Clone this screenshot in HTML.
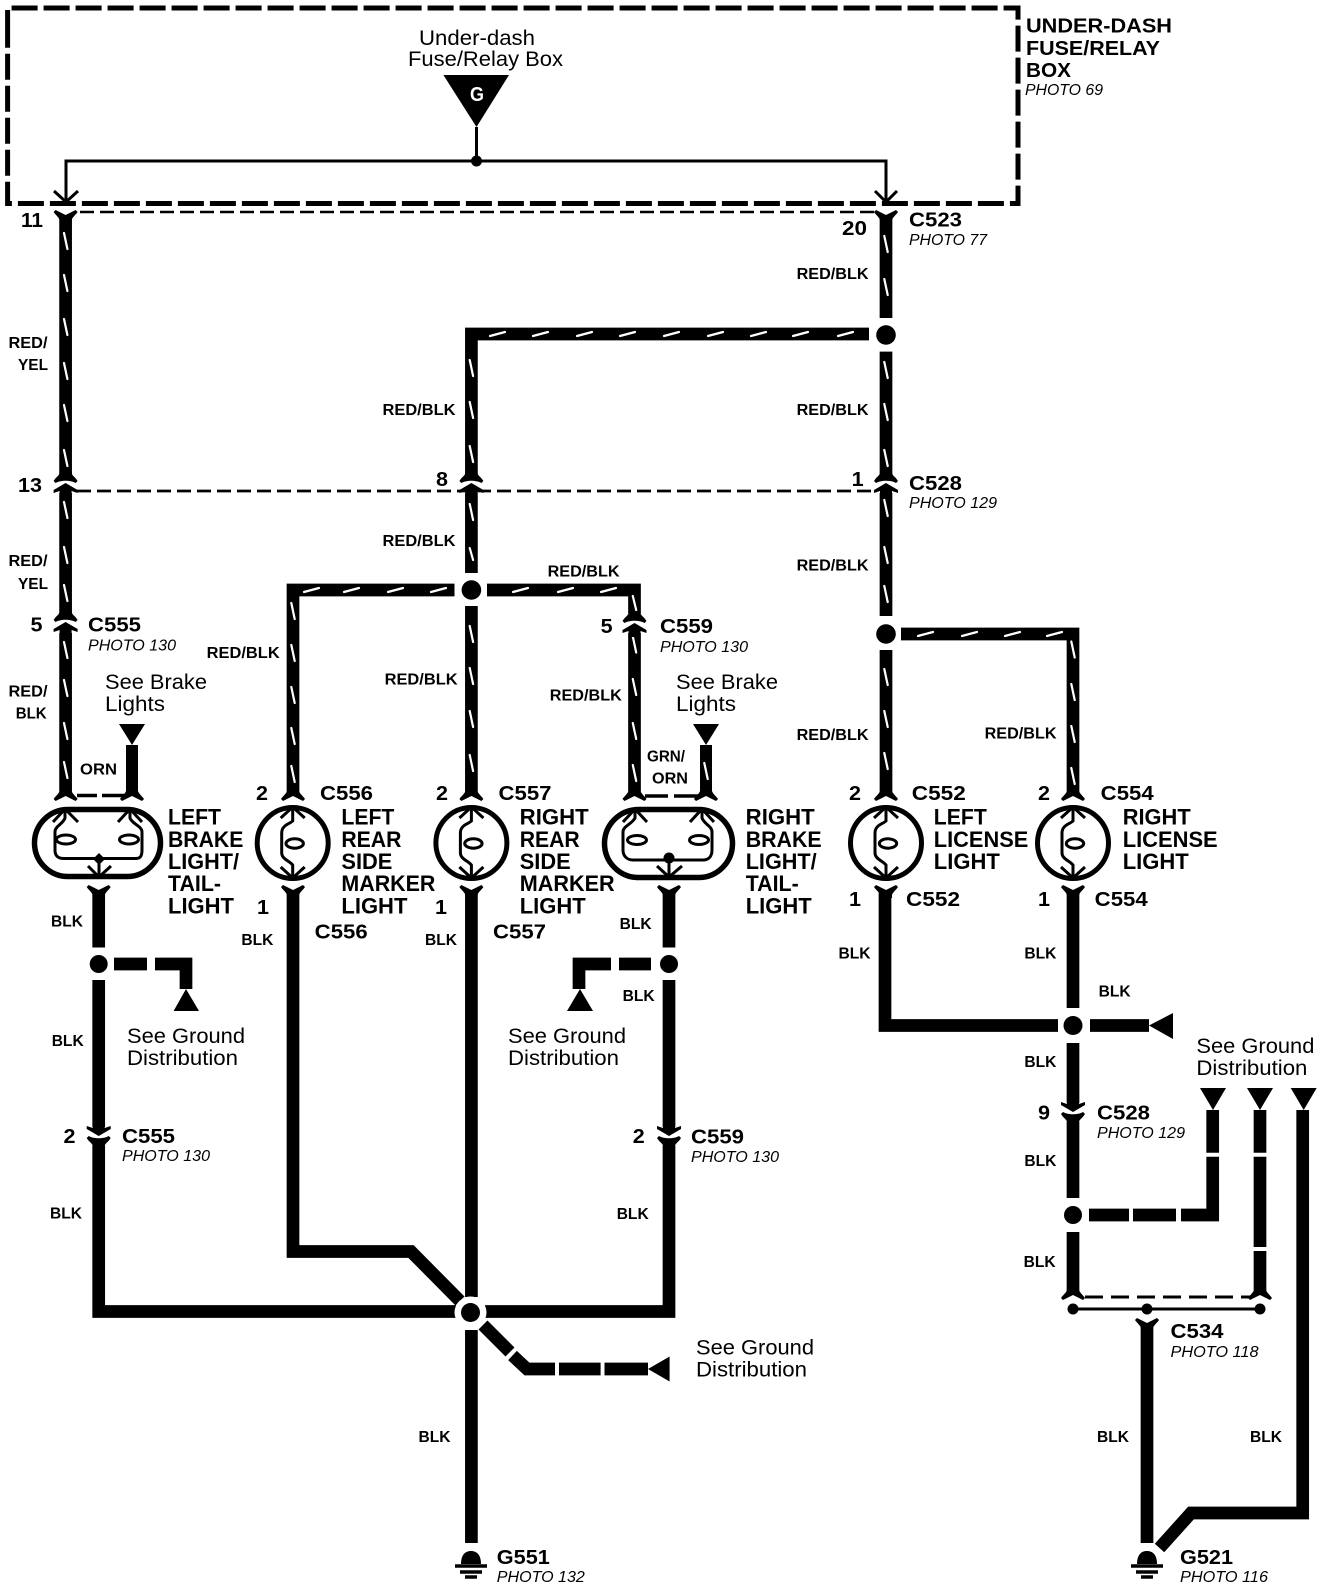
<!DOCTYPE html>
<html><head><meta charset="utf-8"><style>
html,body{margin:0;padding:0;background:#fff}
svg{display:block}
text{font-family:"Liberation Sans",sans-serif;fill:#000}
.w{font-size:16px;font-weight:bold}
.c{font-size:20px;font-weight:bold}
.p{font-size:16px;font-style:italic}
.b{font-size:22px;font-weight:bold}
.r{font-size:21px}
.t{fill:none;stroke:#000;stroke-width:12.7;stroke-linejoin:miter}
.t2{fill:none;stroke:#000;stroke-width:3}
.s{fill:none;stroke:#fff;stroke-width:2.2;stroke-linecap:round}
</style></head><body>
<svg xmlns="http://www.w3.org/2000/svg" width="1328" height="1588" viewBox="0 0 1328 1588">
<defs>
<g id="cu"><path d="M-12-2C-9-7-6-7-6-11H6C6-7 9-7 12-2L10 0C5-3-5-3-10 0Z"/><path d="M0 0L12 7L12 10L6 8V14H-6V8L-12 10L-12 7Z"/></g>
<g id="cd"><path d="M-12 2C-9 7-6 7-6 11H6C6 7 9 7 12 2L10 0C5 3-5 3-10 0Z"/><path d="M0 0L12-7L12-10L6-8V-14H-6V-8L-12-10L-12-7Z"/></g>
<path id="fu" d="M-6-3H6V0C7 3 10 5 12 8L10 10L0 5L-10 10L-12 8C-10 5-7 3-6 0Z"/>
<path id="fd" d="M-6 3H6V0C7-3 10-5 12-8L10-10L0-5L-10-10L-12-8C-10-5-7-3-6 0Z"/>
<g id="bulb" fill="none" stroke="#000">
<ellipse rx="35.5" ry="35.5" stroke-width="5"/>
<path d="M-12-25L0-36L12-25M-12 24L0 35L12 24" stroke-width="3"/>
<path d="M0-35V-22C-3-19-11-18-11-10V-3C-11 1-11 3-11 6V10C-11 16-3 18 0 22V35" stroke-width="3"/>
<ellipse cx="2" cy="0.5" rx="8.7" ry="4.7" stroke-width="3"/>
</g>
<g id="gnd"><path d="M-10 13C-10 3-5 0 0 0S10 3 10 13Z"/><path d="M-16 15H16M-11 21H11M-6 26H6" stroke="#000" stroke-width="3.4"/></g>
</defs>

<!-- box -->
<path d="M7.6 36V8H1018V203.5H7.6V36" fill="none" stroke="#000" stroke-width="5" stroke-dasharray="26 6"/>
<path d="M80 212H875" fill="none" stroke="#000" stroke-width="2.6" stroke-dasharray="14 6"/>
<path d="M77 491H875" fill="none" stroke="#000" stroke-width="2.8" stroke-dasharray="14 6"/>
<path d="M66 200V161H886V200M476.5 127V161" class="t2"/>
<circle cx="476.5" cy="161" r="5.5"/>
<path d="M54 191L66 202L78 191M875 191L886 202L897 191" class="t2"/>
<path d="M443.4 75H509L476.5 127Z"/>

<!-- red wires -->
<path class="t" d="M65.6 216V474M65.6 493V613M65.6 633V792"/>
<path class="t" d="M886 218V318M886 351.6V474M886 493V616M886 650V792"/>
<path class="t" d="M869 334H471.4V474M471.4 493V573M471.4 606V792"/>
<path class="t" d="M454.5 590H293V792"/>
<path class="t" d="M487 590H634.5V613M634.5 633V792"/>
<path class="t" d="M901 634H1073V792"/>
<path class="s" d="M64 233l3.4 16M64 275l3.4 16M64 319l3.4 16M64 363l3.4 16M64 405l3.4 16M64 450l3.4 16M64 502l3.4 16M64 547l3.4 16M64 585l3.4 16M64 642l3.4 16M64 680l3.4 16M64 723l3.4 16M64 762l3.4 16"/>
<path class="s" d="M884.300 236l3.4 16M884.300 279l3.4 16M884.300 362l3.4 16M884.300 404l3.4 16M884.300 450l3.4 16M884.300 500l3.4 16M884.300 547l3.4 16M884.300 586l3.4 16M884.300 669l3.4 16M884.300 711l3.4 16M884.300 753l3.4 16"/>
<path class="s" d="M469.700 360l3.4 16M469.700 402l3.4 16M469.700 446l3.4 16M469.700 504l3.4 16M469.700 548l3.4 12M469.700 626l3.4 16M469.700 668l3.4 16M469.700 711l3.4 16M469.700 755l3.4 16"/>
<path class="s" d="M291.300 603l3.4 16M291.300 645l3.4 16M291.300 687l3.4 16M291.300 728l3.4 16M291.300 766l3.4 16"/>
<path class="s" d="M632.800 596l3.4 14M632.800 636.500l3.4 16M632.800 679l3.4 16M632.800 723l3.4 16M632.800 765l3.4 16"/>
<path class="s" d="M1071.300 641.500l3.4 16M1071.300 684l3.4 16M1071.300 726l3.4 16M1071.300 768l3.4 16"/>
<path class="s" d="M490 336l15-4M533 336l15-4M577 336l15-4M620 336l15-4M664 336l15-4M708 336l15-4M751 336l15-4M793 336l15-4M838 336l15-4"/>
<path class="s" d="M304 592l15-4M344 592l15-4M388 592l15-4M431 592l15-4M513 592l15-4M558 592l15-4M601 592l15-4"/>
<path class="s" d="M918 636l15-4M962 636l15-4M1005 636l15-4M1047 636l15-4"/>

<!-- junctions -->
<circle cx="886" cy="335" r="9.8"/><circle cx="471.400" cy="590" r="9.8"/><circle cx="886" cy="634" r="9.8"/>
<circle cx="98.700" cy="964" r="9"/><circle cx="669" cy="964" r="9"/>
<circle cx="1073" cy="1025.500" r="9.500"/><circle cx="1073" cy="1215" r="9"/>

<!-- connectors -->
<use href="#fd" x="65.600" y="220"/><use href="#fd" x="886" y="220"/>
<use href="#cu" x="65.600" y="483"/><use href="#cu" x="471.400" y="483"/><use href="#cu" x="886" y="483"/>
<use href="#cu" x="65.600" y="622"/><use href="#cu" x="634.500" y="623"/>
<use href="#fu" x="65.600" y="791"/><use href="#fu" x="132" y="791"/><use href="#fu" x="293" y="791"/><use href="#fu" x="471.400" y="791"/><use href="#fu" x="634.500" y="791"/><use href="#fu" x="706" y="791"/><use href="#fu" x="886" y="791"/><use href="#fu" x="1073" y="791"/>
<use href="#fd" x="98.700" y="895"/><use href="#fd" x="293" y="895"/><use href="#fd" x="471.400" y="895"/><use href="#fd" x="669" y="895"/><use href="#fd" x="886" y="895"/><use href="#fd" x="1073" y="895"/>
<use href="#cd" x="98.700" y="1136"/><use href="#cd" x="669" y="1136"/><use href="#cd" x="1073" y="1112"/>
<use href="#fu" x="1073" y="1290"/><use href="#fu" x="1260" y="1290"/><use href="#fd" x="1147" y="1328"/>
<path d="M77 795.500H97M102 795.500H127M645 796H668M674 796H700" fill="none" stroke="#000" stroke-width="3.5"/>

<!-- bulbs -->
<use href="#bulb" x="292.700" y="843"/><use href="#bulb" x="471.400" y="843"/><use href="#bulb" x="886" y="843"/><use href="#bulb" x="1073" y="843"/>
<g fill="none" stroke="#000">
<rect x="34.500" y="809.500" width="126" height="67" rx="33.500" stroke-width="5.500"/>
<rect x="604.500" y="809.500" width="128" height="68" rx="34" stroke-width="5.500"/>
<path stroke-width="3" d="M53 822L65 809L78 822M118 822L130 809L142 822M88 866L99 877L111 866M99 860V877M65 809V818C63 824 55 826 55 832V850C55 856 58 858.500 64 858.500H136C141 858.500 142 855 142 850V832C142 826 132 824 130 818V809"/>
<ellipse cx="66" cy="839.500" rx="9.500" ry="4.500" stroke-width="3"/><ellipse cx="129" cy="839.500" rx="9.500" ry="4.500" stroke-width="3"/>
<path stroke-width="3" d="M623 822L635 809L647 822M690 822L702 809L714 822M657 866L669 877L682 866M669 860V877M635 809V818C632 824 623 826 623 832V850C623 856 627 860 633 860H703C709 860 712 856 712 850V832C712 826 704 824 702 818V809"/>
<ellipse cx="637" cy="840" rx="9.500" ry="4.500" stroke-width="3"/><ellipse cx="699" cy="840" rx="9.500" ry="4.500" stroke-width="3"/>
</g>
<path d="M99 853L105 859L99 865L93 859Z"/><circle cx="669" cy="858" r="5.500"/>

<!-- see brake -->
<path class="t" style="stroke-width:12" d="M132 745V790M706 745V790"/>
<path class="s" d="M704.300 763l3.4 16"/>
<path d="M119 724H145L132 745ZM693 724H719L706 745Z"/>

<!-- black wires -->
<path class="t" d="M98.700 893V947.500M98.700 980V1127M98.700 1146V1311.500H456"/>
<path class="t" d="M293 893V1251.500H411L460 1301"/>
<path class="t" d="M471.400 893V1297M471.400 1330V1543"/>
<path class="t" d="M485 1311.500H669V1146M669 1127V980M669 947.500V893"/>
<path class="t" d="M885 893V1025.500H1058"/>
<path class="t" d="M1073 893V1008M1073 1043V1103M1073 1122V1198M1073 1232V1292"/>
<path class="t" d="M1147 1325V1543"/>
<path class="t" d="M1302.700 1110V1513H1191L1159.500 1548"/>
<!-- dashed -->
<path class="t" d="M114 964H147M155 964H186V989M651 964H619M611 964H579V989M1090 1025.500H1149"/>
<path class="t" d="M483 1325L510 1352M512.500 1355.500L527 1369H555M559 1369H600.600M604.500 1369H648"/>
<path class="t" d="M1089 1215H1129M1133 1215H1176M1181 1215H1212.700V1204M1212.700 1156.700V1204M1212.700 1110V1152.700"/>
<path class="t" d="M1260 1110V1152.700M1260 1156.700V1247M1260 1251V1292"/>
<path d="M173.600 1011H199L186 989ZM567 1011H593L580 989ZM1149 1025.500L1173 1013V1039Z"/>
<path d="M648 1369L669.600 1356.500V1381.500Z"/>
<path d="M1200 1088H1226L1213 1110ZM1247 1088H1273L1260 1110ZM1290.700 1088H1316.700L1303.700 1110Z"/>
<path d="M1085 1297H1250" fill="none" stroke="#000" stroke-width="3" stroke-dasharray="18 8"/>
<path d="M1073 1309H1260" class="t2"/>
<circle cx="1073" cy="1309" r="5.500"/><circle cx="1147" cy="1309" r="5.500"/><circle cx="1260" cy="1309" r="5.500"/>
<circle cx="470.500" cy="1312.500" r="16" fill="#fff"/><circle cx="470.500" cy="1312.500" r="9.500"/>
<use href="#gnd" x="471" y="1551"/><use href="#gnd" x="1147" y="1551"/>

<!-- text -->
<g>
<text class="r" x="419" y="45" textLength="116" lengthAdjust="spacingAndGlyphs">Under-dash</text>
<text class="r" x="408" y="66" textLength="155" lengthAdjust="spacingAndGlyphs">Fuse/Relay Box</text>
<text class="c" x="470" y="101" style="fill:#fff" textLength="14" lengthAdjust="spacingAndGlyphs">G</text>
<text class="c" x="1026" y="32.500" textLength="146" lengthAdjust="spacingAndGlyphs">UNDER-DASH</text>
<text class="c" x="1026" y="55" textLength="134" lengthAdjust="spacingAndGlyphs">FUSE/RELAY</text>
<text class="c" x="1026" y="77" textLength="45" lengthAdjust="spacingAndGlyphs">BOX</text>
<text class="p" x="1025" y="95" textLength="78" lengthAdjust="spacingAndGlyphs">PHOTO 69</text>
<text class="c" x="21" y="227" textLength="22" lengthAdjust="spacingAndGlyphs">11</text>
<text class="c" x="842" y="235" textLength="25" lengthAdjust="spacingAndGlyphs">20</text>
<text class="c" x="909" y="226.500" textLength="53" lengthAdjust="spacingAndGlyphs">C523</text>
<text class="p" x="909" y="245" textLength="78" lengthAdjust="spacingAndGlyphs">PHOTO 77</text>
<text class="w" x="8.500" y="348" textLength="39" lengthAdjust="spacingAndGlyphs">RED/</text>
<text class="w" x="18" y="370" textLength="30" lengthAdjust="spacingAndGlyphs">YEL</text>
<text class="w" x="796.600" y="279" textLength="72" lengthAdjust="spacingAndGlyphs">RED/BLK</text>
<text class="w" x="382.500" y="415" textLength="73" lengthAdjust="spacingAndGlyphs">RED/BLK</text>
<text class="w" x="796.600" y="415" textLength="72" lengthAdjust="spacingAndGlyphs">RED/BLK</text>
<text class="c" x="18" y="492" textLength="24" lengthAdjust="spacingAndGlyphs">13</text>
<text class="c" x="436" y="486" textLength="12" lengthAdjust="spacingAndGlyphs">8</text>
<text class="c" x="851.600" y="486" textLength="12" lengthAdjust="spacingAndGlyphs">1</text>
<text class="c" x="909" y="490" textLength="53" lengthAdjust="spacingAndGlyphs">C528</text>
<text class="p" x="909" y="508" textLength="88" lengthAdjust="spacingAndGlyphs">PHOTO 129</text>
<text class="w" x="382.500" y="546" textLength="73" lengthAdjust="spacingAndGlyphs">RED/BLK</text>
<text class="w" x="796.600" y="570.600" textLength="72" lengthAdjust="spacingAndGlyphs">RED/BLK</text>
<text class="w" x="8.500" y="566" textLength="39" lengthAdjust="spacingAndGlyphs">RED/</text>
<text class="w" x="18" y="589" textLength="30" lengthAdjust="spacingAndGlyphs">YEL</text>
<text class="w" x="547.600" y="576.600" textLength="72" lengthAdjust="spacingAndGlyphs">RED/BLK</text>
<text class="c" x="30.500" y="631.400" textLength="12" lengthAdjust="spacingAndGlyphs">5</text>
<text class="c" x="88" y="631.400" textLength="53" lengthAdjust="spacingAndGlyphs">C555</text>
<text class="p" x="88" y="650.700" textLength="88" lengthAdjust="spacingAndGlyphs">PHOTO 130</text>
<text class="c" x="600.600" y="633" textLength="12" lengthAdjust="spacingAndGlyphs">5</text>
<text class="c" x="660" y="633" textLength="53" lengthAdjust="spacingAndGlyphs">C559</text>
<text class="p" x="660" y="652" textLength="88" lengthAdjust="spacingAndGlyphs">PHOTO 130</text>
<text class="w" x="206.700" y="657.800" textLength="73" lengthAdjust="spacingAndGlyphs">RED/BLK</text>
<text class="w" x="384.600" y="684.500" textLength="73" lengthAdjust="spacingAndGlyphs">RED/BLK</text>
<text class="w" x="549.800" y="700.700" textLength="72" lengthAdjust="spacingAndGlyphs">RED/BLK</text>
<text class="w" x="8.500" y="696.700" textLength="39" lengthAdjust="spacingAndGlyphs">RED/</text>
<text class="w" x="15.700" y="718.600" textLength="31" lengthAdjust="spacingAndGlyphs">BLK</text>
<text class="r" x="105" y="689" textLength="102" lengthAdjust="spacingAndGlyphs">See Brake</text>
<text class="r" x="105" y="711" textLength="60" lengthAdjust="spacingAndGlyphs">Lights</text>
<text class="r" x="676" y="689" textLength="102" lengthAdjust="spacingAndGlyphs">See Brake</text>
<text class="r" x="676" y="711" textLength="60" lengthAdjust="spacingAndGlyphs">Lights</text>
<text class="w" x="796.600" y="740" textLength="72" lengthAdjust="spacingAndGlyphs">RED/BLK</text>
<text class="w" x="984.600" y="738.600" textLength="72" lengthAdjust="spacingAndGlyphs">RED/BLK</text>
<text class="w" x="80" y="774.400" textLength="37" lengthAdjust="spacingAndGlyphs">ORN</text>
<text class="w" x="647" y="761.600" textLength="38" lengthAdjust="spacingAndGlyphs">GRN/</text>
<text class="w" x="652" y="783.500" textLength="36" lengthAdjust="spacingAndGlyphs">ORN</text>
<text class="c" x="256" y="800" textLength="12" lengthAdjust="spacingAndGlyphs">2</text>
<text class="c" x="320" y="800" textLength="53" lengthAdjust="spacingAndGlyphs">C556</text>
<text class="c" x="436" y="800" textLength="12" lengthAdjust="spacingAndGlyphs">2</text>
<text class="c" x="498.500" y="800" textLength="53" lengthAdjust="spacingAndGlyphs">C557</text>
<text class="c" x="849" y="800" textLength="12" lengthAdjust="spacingAndGlyphs">2</text>
<text class="c" x="911.800" y="800" textLength="54" lengthAdjust="spacingAndGlyphs">C552</text>
<text class="c" x="1038" y="800" textLength="12" lengthAdjust="spacingAndGlyphs">2</text>
<text class="c" x="1100.700" y="800" textLength="53" lengthAdjust="spacingAndGlyphs">C554</text>

<text class="b" x="168" y="824.500" textLength="53" lengthAdjust="spacingAndGlyphs">LEFT</text>
<text class="b" x="168" y="846.800" textLength="75.400" lengthAdjust="spacingAndGlyphs">BRAKE</text>
<text class="b" x="168" y="869" textLength="71" lengthAdjust="spacingAndGlyphs">LIGHT/</text>
<text class="b" x="168" y="891" textLength="53" lengthAdjust="spacingAndGlyphs">TAIL-</text>
<text class="b" x="168" y="913.700" textLength="66" lengthAdjust="spacingAndGlyphs">LIGHT</text>
<text class="b" x="341.400" y="824.500" textLength="53" lengthAdjust="spacingAndGlyphs">LEFT</text>
<text class="b" x="341.400" y="846.800" textLength="60" lengthAdjust="spacingAndGlyphs">REAR</text>
<text class="b" x="341.400" y="869" textLength="51" lengthAdjust="spacingAndGlyphs">SIDE</text>
<text class="b" x="341.400" y="891" textLength="94" lengthAdjust="spacingAndGlyphs">MARKER</text>
<text class="b" x="341.400" y="913.700" textLength="66" lengthAdjust="spacingAndGlyphs">LIGHT</text>
<text class="b" x="519.700" y="824.500" textLength="69" lengthAdjust="spacingAndGlyphs">RIGHT</text>
<text class="b" x="519.700" y="846.800" textLength="60" lengthAdjust="spacingAndGlyphs">REAR</text>
<text class="b" x="519.700" y="869" textLength="51" lengthAdjust="spacingAndGlyphs">SIDE</text>
<text class="b" x="519.700" y="891" textLength="95" lengthAdjust="spacingAndGlyphs">MARKER</text>
<text class="b" x="519.700" y="913.700" textLength="66" lengthAdjust="spacingAndGlyphs">LIGHT</text>
<text class="b" x="745.700" y="824.500" textLength="69" lengthAdjust="spacingAndGlyphs">RIGHT</text>
<text class="b" x="745.700" y="846.800" textLength="76" lengthAdjust="spacingAndGlyphs">BRAKE</text>
<text class="b" x="745.700" y="869" textLength="71" lengthAdjust="spacingAndGlyphs">LIGHT/</text>
<text class="b" x="745.700" y="891" textLength="53" lengthAdjust="spacingAndGlyphs">TAIL-</text>
<text class="b" x="745.700" y="913.700" textLength="66" lengthAdjust="spacingAndGlyphs">LIGHT</text>
<text class="b" x="933.800" y="824.500" textLength="53" lengthAdjust="spacingAndGlyphs">LEFT</text>
<text class="b" x="933.800" y="846.800" textLength="94.500" lengthAdjust="spacingAndGlyphs">LICENSE</text>
<text class="b" x="933.800" y="869" textLength="66" lengthAdjust="spacingAndGlyphs">LIGHT</text>
<text class="b" x="1122.700" y="824.500" textLength="68" lengthAdjust="spacingAndGlyphs">RIGHT</text>
<text class="b" x="1122.700" y="846.800" textLength="95" lengthAdjust="spacingAndGlyphs">LICENSE</text>
<text class="b" x="1122.700" y="869" textLength="66" lengthAdjust="spacingAndGlyphs">LIGHT</text>

<text class="c" x="849" y="906" textLength="12" lengthAdjust="spacingAndGlyphs">1</text>
<text class="c" x="906" y="906" textLength="54" lengthAdjust="spacingAndGlyphs">C552</text>
<text class="c" x="1038" y="906" textLength="12" lengthAdjust="spacingAndGlyphs">1</text>
<text class="c" x="1094.700" y="906" textLength="53" lengthAdjust="spacingAndGlyphs">C554</text>
<text class="c" x="257" y="914" textLength="12" lengthAdjust="spacingAndGlyphs">1</text>
<text class="c" x="435" y="914" textLength="12" lengthAdjust="spacingAndGlyphs">1</text>
<text class="c" x="314.700" y="938.400" textLength="53" lengthAdjust="spacingAndGlyphs">C556</text>
<text class="c" x="493" y="938.400" textLength="53" lengthAdjust="spacingAndGlyphs">C557</text>

<text class="w" x="51" y="926.500" textLength="32" lengthAdjust="spacingAndGlyphs">BLK</text>
<text class="w" x="241.400" y="945" textLength="32" lengthAdjust="spacingAndGlyphs">BLK</text>
<text class="w" x="425" y="945" textLength="32" lengthAdjust="spacingAndGlyphs">BLK</text>
<text class="w" x="619.600" y="929" textLength="32" lengthAdjust="spacingAndGlyphs">BLK</text>
<text class="w" x="622.600" y="1001" textLength="32" lengthAdjust="spacingAndGlyphs">BLK</text>
<text class="w" x="51.700" y="1046" textLength="32" lengthAdjust="spacingAndGlyphs">BLK</text>
<text class="w" x="838.500" y="958.700" textLength="32" lengthAdjust="spacingAndGlyphs">BLK</text>
<text class="w" x="1024.400" y="958.700" textLength="32" lengthAdjust="spacingAndGlyphs">BLK</text>
<text class="w" x="1098.600" y="996.500" textLength="32" lengthAdjust="spacingAndGlyphs">BLK</text>
<text class="w" x="1024.400" y="1067" textLength="32" lengthAdjust="spacingAndGlyphs">BLK</text>
<text class="w" x="1024.400" y="1166" textLength="32" lengthAdjust="spacingAndGlyphs">BLK</text>
<text class="w" x="1023.600" y="1267" textLength="32" lengthAdjust="spacingAndGlyphs">BLK</text>
<text class="w" x="50" y="1218.600" textLength="32" lengthAdjust="spacingAndGlyphs">BLK</text>
<text class="w" x="616.700" y="1219" textLength="32" lengthAdjust="spacingAndGlyphs">BLK</text>
<text class="w" x="418.500" y="1442" textLength="32" lengthAdjust="spacingAndGlyphs">BLK</text>
<text class="w" x="1097" y="1442" textLength="32" lengthAdjust="spacingAndGlyphs">BLK</text>
<text class="w" x="1250" y="1442" textLength="32" lengthAdjust="spacingAndGlyphs">BLK</text>

<text class="r" x="127" y="1043" textLength="118" lengthAdjust="spacingAndGlyphs">See Ground</text>
<text class="r" x="127" y="1065" textLength="111" lengthAdjust="spacingAndGlyphs">Distribution</text>
<text class="r" x="508" y="1043" textLength="118" lengthAdjust="spacingAndGlyphs">See Ground</text>
<text class="r" x="508" y="1065" textLength="111" lengthAdjust="spacingAndGlyphs">Distribution</text>
<text class="r" x="1196.400" y="1053" textLength="118" lengthAdjust="spacingAndGlyphs">See Ground</text>
<text class="r" x="1196.400" y="1075" textLength="111" lengthAdjust="spacingAndGlyphs">Distribution</text>
<text class="r" x="696" y="1354.500" textLength="118" lengthAdjust="spacingAndGlyphs">See Ground</text>
<text class="r" x="696" y="1376.500" textLength="111" lengthAdjust="spacingAndGlyphs">Distribution</text>

<text class="c" x="1038" y="1119.500" textLength="12" lengthAdjust="spacingAndGlyphs">9</text>
<text class="c" x="1097" y="1119.500" textLength="53" lengthAdjust="spacingAndGlyphs">C528</text>
<text class="p" x="1097" y="1138" textLength="88" lengthAdjust="spacingAndGlyphs">PHOTO 129</text>
<text class="c" x="63.500" y="1143" textLength="12" lengthAdjust="spacingAndGlyphs">2</text>
<text class="c" x="122" y="1143" textLength="53" lengthAdjust="spacingAndGlyphs">C555</text>
<text class="p" x="122" y="1161" textLength="88" lengthAdjust="spacingAndGlyphs">PHOTO 130</text>
<text class="c" x="632.800" y="1143" textLength="12" lengthAdjust="spacingAndGlyphs">2</text>
<text class="c" x="691" y="1143.600" textLength="53" lengthAdjust="spacingAndGlyphs">C559</text>
<text class="p" x="691" y="1162" textLength="88" lengthAdjust="spacingAndGlyphs">PHOTO 130</text>
<text class="c" x="1170.500" y="1338" textLength="53" lengthAdjust="spacingAndGlyphs">C534</text>
<text class="p" x="1170.500" y="1357" textLength="88" lengthAdjust="spacingAndGlyphs">PHOTO 118</text>
<text class="c" x="496.800" y="1564" textLength="53" lengthAdjust="spacingAndGlyphs">G551</text>
<text class="p" x="496.800" y="1582" textLength="88" lengthAdjust="spacingAndGlyphs">PHOTO 132</text>
<text class="c" x="1180" y="1564" textLength="53" lengthAdjust="spacingAndGlyphs">G521</text>
<text class="p" x="1180" y="1582" textLength="88" lengthAdjust="spacingAndGlyphs">PHOTO 116</text>
</g>
</svg>
</body></html>
